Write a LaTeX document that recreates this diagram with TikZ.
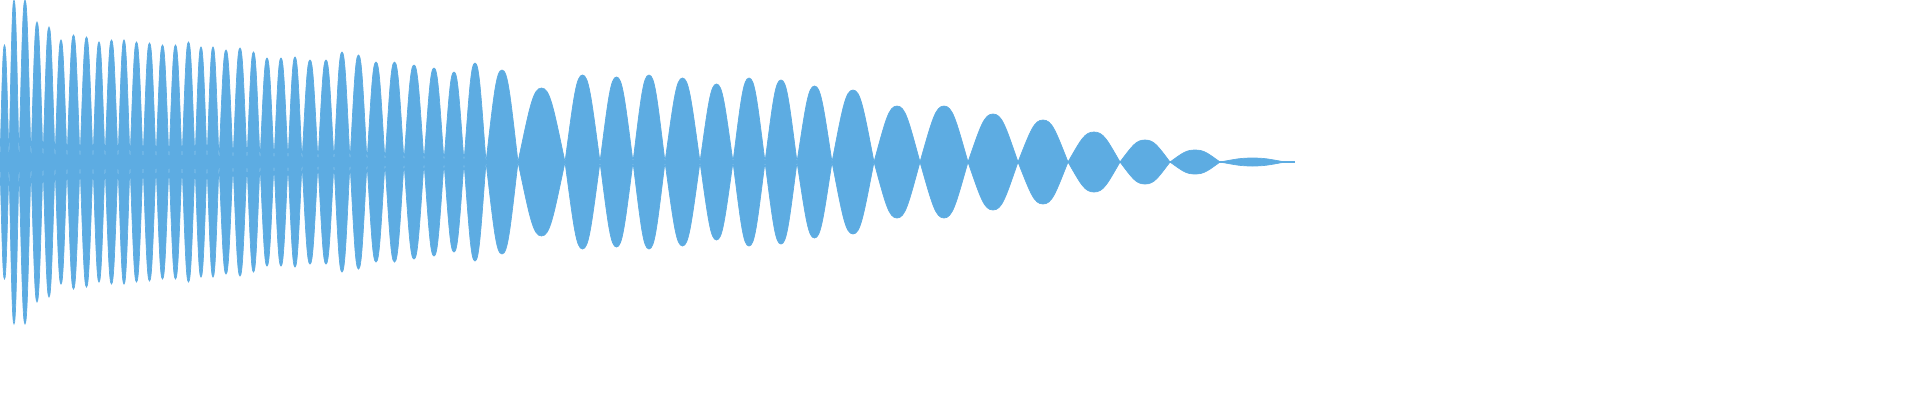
\documentclass[tikz,border=0pt]{standalone}
\definecolor{wave}{RGB}{93,172,226}
\tikzset{lobe/.style={fill=wave, draw=wave, line width=0.2pt}}
\begin{document}
\begin{tikzpicture}[x=0.1mm,y=0.1mm]
	\clip (0,-238) rectangle (1920,162);
	\useasboundingbox (0,-238) rectangle (1920,162);
	% lobes: start / end / amplitude
	\foreach \a/\b/\h in {0/9/117, 9/19/162, 19/31/162, 31/43/140, 43/55/135, 55/67/122,
		67/80/127, 80/93/125, 93/105/120, 105/118/122, 118/130/122, 130/143/120,
		143/156/119, 156/169/117, 169/182/117, 182/195/120, 195/207/115, 207/219/115,
		219/233/112, 233/247/114, 247/260/110, 260/274/104, 274/288/104, 288/302/105,
		302/318/102, 318/334/102, 334/350/110, 350/367/107, 367/385/100, 385/404/100,
		404/424/97, 424/444/94, 444/464/90, 464/486/99, 486/518/92,
		518/565/74, 565/600/87, 600/633/85, 633/665/87, 665/700/84, 700/733/78,
		733/765/84, 765/797/82, 797/832/76, 832/874/72, 874/920/56, 920/968/56,
		968/1018/48, 1018/1068/42, 1068/1120/30, 1120/1170/22, 1170/1220/12, 1220/1285/4}
	{
		\fill[lobe] (\a,0)
			.. controls ({\a+0.25*(\b-\a)},{0.75*\h}) and ({\a+0.32*(\b-\a)},\h) .. ({(\a+\b)/2},\h)
			.. controls ({\b-0.32*(\b-\a)},\h) and ({\b-0.25*(\b-\a)},{0.75*\h}) .. (\b,0)
			.. controls ({\b-0.25*(\b-\a)},{-0.75*\h}) and ({\b-0.32*(\b-\a)},-\h) .. ({(\a+\b)/2},-\h)
			.. controls ({\a+0.32*(\b-\a)},-\h) and ({\a+0.25*(\b-\a)},{-0.75*\h}) .. cycle;
	}
	\draw[wave, line width=0.3pt] (0,0) -- (1295,0);
\end{tikzpicture}
\end{document}
